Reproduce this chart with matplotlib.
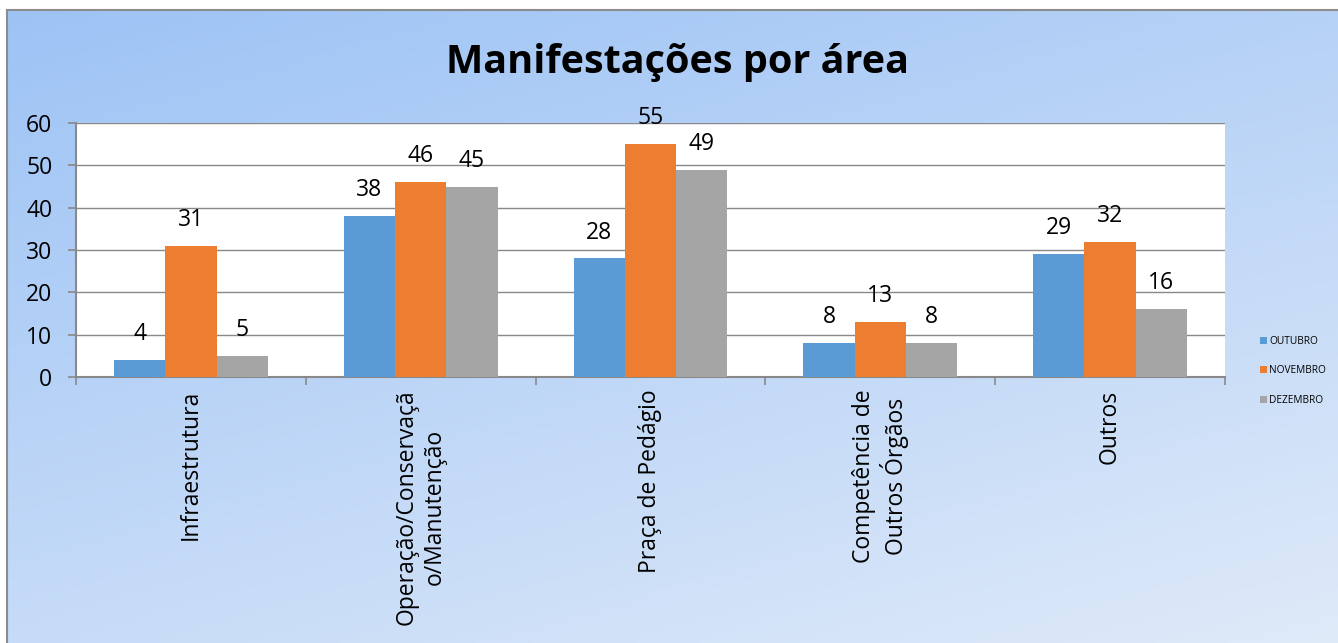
import numpy as np
import matplotlib
matplotlib.use("Agg")
import matplotlib.pyplot as plt
from matplotlib.patches import Patch

plt.rcParams['font.family'] = ['Open Sans', 'DejaVu Sans']

categories = ['Infraestrutura', 'Operação/Conservaçã\no/Manutenção', 'Praça de Pedágio',
              'Competência de\nOutros Órgãos', 'Outros']
series_names = ['OUTUBRO', 'NOVEMBRO', 'DEZEMBRO']
outubro = [4, 38, 28, 8, 29]
novembro = [31, 46, 55, 13, 32]
dezembro = [5, 45, 49, 8, 16]
colors = ['#5B9BD5', '#ED7D31', '#A5A5A5']
yticks = [0, 10, 20, 30, 40, 50, 60]

W, H = 1338, 643
fig = plt.figure(figsize=(W / 100, H / 100), dpi=100, facecolor='white')

# gradient background frame
bg = fig.add_axes([7 / W, 0, 1 - 7 / W, 1 - 10 / H], zorder=-5)
xs = np.linspace(0, 1, 300)
ys = np.linspace(0, 1, 150)
gx, gy = np.meshgrid(xs, ys)
t = np.clip(0.45 * gx + 0.75 * gy, 0, 1.2) / 1.2
c0 = np.array([157, 195, 245]) / 255
c1 = np.array([223, 234, 249]) / 255
img = c0[None, None, :] * (1 - t[..., None]) + c1[None, None, :] * t[..., None]
bg.imshow(img, extent=[0, 1, 0, 1], aspect='auto', origin='upper')
bg.set_xticks([])
bg.set_yticks([])
for s in ['right', 'bottom']:
    bg.spines[s].set_visible(False)
for s in ['top', 'left']:
    bg.spines[s].set_color('#8c8c8c')
    bg.spines[s].set_linewidth(1.5)

ax = fig.add_axes([76 / W, 1 - 377 / H, (1225 - 76) / W, (377 - 123) / H])
ax.set_facecolor('white')

x = np.arange(len(categories))
w = 0.223
for i, (vals, name) in enumerate(zip([outubro, novembro, dezembro], series_names)):
    pos = x + (i - 1) * w
    ax.bar(pos, vals, width=w, color=colors[i], label=name, zorder=3)
    for px, v in zip(pos, vals):
        ax.annotate(str(v), (px, v), xytext=(0, 10), textcoords='offset points',
                    ha='center', va='bottom', fontsize=16.5, color='black')

ax.set_xlim(-0.5, len(categories) - 0.5)
ax.set_ylim(0, 60)
ax.set_yticks(yticks)
ax.yaxis.grid(True, color='#898989', linewidth=1, zorder=0)
ax.set_axisbelow(True)

ax.tick_params(axis='y', length=6, color='#898989', width=1.2, labelsize=16.5, pad=11)
ax.set_xticks(x)
ax.set_xticklabels(categories, rotation=90, fontsize=16.5, ha='center', va='top',
                   multialignment='center')
ax.tick_params(axis='x', which='major', length=0, pad=9)
ax.set_xticks(np.arange(-0.5, len(categories), 1), minor=True)
ax.tick_params(axis='x', which='minor', length=6, color='#898989', width=1.2)

for s in ['top', 'right']:
    ax.spines[s].set_visible(False)
for s in ['left', 'bottom']:
    ax.spines[s].set_color('#898989')
    ax.spines[s].set_linewidth(1.5)

fig.text(678 / W, 1 - 62 / H, 'Manifestações por área', ha='center', va='center',
         fontsize=28.5, fontweight='bold', color='black')

handles = [Patch(facecolor=c, edgecolor='none') for c in colors]
fig.legend(handles, series_names, loc='center left',
           bbox_to_anchor=(1260 / W, 1 - 371 / H), frameon=False, fontsize=7.3,
           handlelength=0.7, handleheight=0.7, handletextpad=0.2, labelspacing=1.8,
           borderpad=0, borderaxespad=0)

fig.savefig('out.png', dpi=100, facecolor='white')
